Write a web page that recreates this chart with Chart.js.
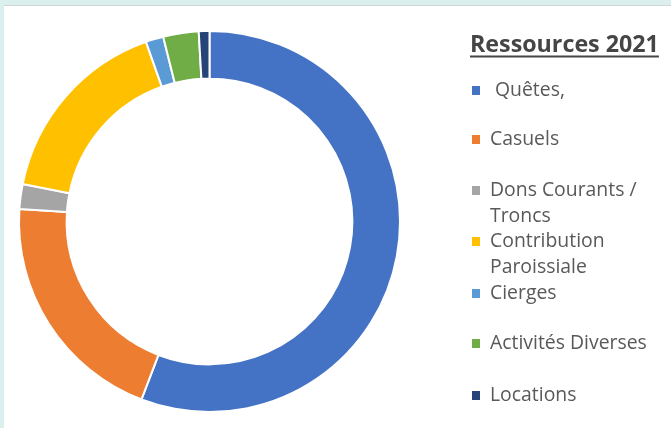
<!DOCTYPE html>
<html>
<head>
<meta charset="utf-8">
<script src="https://cdn.jsdelivr.net/npm/chart.js@4"></script>
<style>
  html, body { margin: 0; padding: 0; }
  body { background: #dcefef; width: 671px; height: 428px; overflow: hidden; }
  #panel {
    position: absolute; left: 4px; top: 5px; width: 667px; height: 423px;
    background: #ffffff; border-top: 1px solid #cfd8d8;
  }
  #chart { display: block; }
</style>
</head>
<body>
<div id="panel"><canvas id="chart" width="667" height="422"></canvas></div>
<script>
// data (share of total, %)
const title = "Ressources 2021";
const categories = [
  "Quêtes,",
  "Casuels",
  ["Dons Courants /", "Troncs"],
  ["Contribution", "Paroissiale"],
  "Cierges",
  "Activités Diverses",
  "Locations"
];
const values = [55.7, 20.2, 2.1, 16.4, 1.5, 3.0, 0.9];
const colors = ["#4472c4", "#ed7d31", "#a5a5a5", "#ffc000", "#5b9bd5", "#70ad47", "#264478"];

// legend rows: y of first line (canvas px)
const legendRows = [84, 133, 184, 235, 287, 337, 389];

// font size that makes text about w px wide
function fitSize(ctx, text, weight, w) {
    ctx.font = weight + " 20px 'Open Sans'";
    return 20 * w / ctx.measureText(text).width;
}

// draws the excel style legend on the right
const sideLegend = {
    id: "sideLegend",
    afterDraw(chart) {
        const ctx = chart.ctx;
        ctx.save();
        ctx.textAlign = "left";
        // title
        var ts = fitSize(ctx, title, "bold", 189);
        ctx.font = "bold " + ts + "px 'Open Sans'";
        ctx.fillStyle = "#454545";
        ctx.textBaseline = "alphabetic";
        var tx = 466;
        ctx.fillText(title, tx, 46);
        var w = ctx.measureText(title).width;
        ctx.fillRect(tx, 49.5, w, 2);

        var ls = fitSize(ctx, "Activités Diverses", "normal", 157);
        ctx.font = ls + "px 'Open Sans'";
        ctx.textBaseline = "middle";
        for (var i = 0; i < categories.length; i++) {
            var y = legendRows[i];
            ctx.fillStyle = colors[i];
            ctx.fillRect(468, y - 4, 8, 9);
            ctx.fillStyle = "#595959";
            var lines = Array.isArray(categories[i]) ? categories[i] : [categories[i]];
            var x = i == 0 ? 491 : 486;
            for (var j = 0; j < lines.length; j++) {
                ctx.fillText(lines[j], x, y + j * 26);
            }
        }
        ctx.restore();
    }
};

new Chart(document.getElementById("chart"), {
    type: "doughnut",
    data: {
        labels: categories,
        datasets: [{
            data: values,
            backgroundColor: colors,
            borderColor: "#ffffff",
            borderWidth: 2,
            hoverOffset: 0
        }]
    },
    options: {
        responsive: false,
        animation: false,
        cutout: "75%",
        layout: { padding: { left: 14, top: 24, right: 270, bottom: 15 } },
        plugins: {
            legend: { display: false },
            tooltip: { enabled: false }
        }
    },
    plugins: [sideLegend]
});
</script>
</body>
</html>
